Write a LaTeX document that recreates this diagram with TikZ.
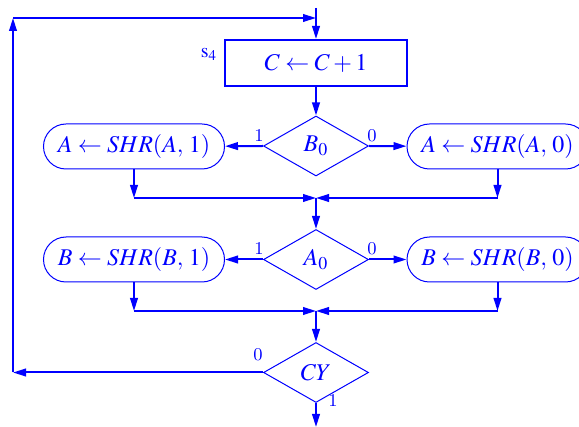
\documentclass[tikz,border=0pt]{standalone}
\usepackage{mathptmx}
\usetikzlibrary{shapes.geometric,arrows.meta}

\begin{document}
\begin{tikzpicture}[x=0.5pt,y=-0.5pt,
  every node/.style={text=blue},
  arrowline/.style={draw=blue,line width=1pt,-{Triangle[length=6.5pt,width=3.8pt]}},
  procbox/.style={draw=blue,line width=1pt,minimum width=91pt,minimum height=23pt,font=\fontsize{12}{14}\selectfont},
  shiftbox/.style={draw=blue,line width=0.5pt,rounded corners=11.25pt,minimum width=90.5pt,minimum height=22.5pt,font=\fontsize{12}{14}\selectfont},
  decision/.style={diamond,draw=blue,line width=0.5pt,minimum width=52.5pt,minimum height=30pt,inner sep=0pt,font=\fontsize{12}{14}\selectfont},
  edgelabel/.style={inner sep=0pt,font=\fontsize{9}{10}\selectfont}]
\useasboundingbox (0,0) rectangle (579,427);
% state s4
\coordinate (start) at (316,8);
\node[procbox] (inc) at (316,63) {$C \leftarrow C + 1$};
\node[edgelabel,font=\fontsize{10}{12}\selectfont] () at (209,54) {$\mathrm{s}_4$};
\draw [arrowline] (start) -- (inc);
% shift A by B0
\node[decision] (bzero) at (316,146) {$B_0$};
\node[shiftbox] (shrAone) at (134,146.5) {$A \leftarrow SHR(A,\,1)$};
\node[shiftbox] (shrAzero) at (497.5,146.5) {$A \leftarrow SHR(A,\,0)$};
\draw [arrowline] (inc) -- (bzero);
\draw [arrowline] (bzero.west) -- (shrAone);
\draw [arrowline] (bzero.east) -- (shrAzero);
\node[edgelabel] () at (259,136) {1};
\node[edgelabel] () at (372,136) {0};
\coordinate (joinA) at (316,198);
\draw [arrowline] (shrAone.south) -- (shrAone.south |- joinA);
\draw [arrowline] (shrAone.south |- joinA) -- (joinA);
\draw [arrowline] (shrAzero.south) -- (shrAzero.south |- joinA);
\draw [arrowline] (shrAzero.south |- joinA) -- (joinA);
% shift B by A0
\node[decision] (azero) at (316,259.5) {$A_0$};
\node[shiftbox] (shrBone) at (134,259.5) {$B \leftarrow SHR(B,\,1)$};
\node[shiftbox] (shrBzero) at (497.5,259.5) {$B \leftarrow SHR(B,\,0)$};
\draw [arrowline] (joinA) -- (azero);
\draw [arrowline] (azero.west) -- (shrBone);
\draw [arrowline] (azero.east) -- (shrBzero);
\node[edgelabel] () at (259,249) {1};
\node[edgelabel] () at (372,249) {0};
\coordinate (joinB) at (316,311);
\draw [arrowline] (shrBone.south) -- (shrBone.south |- joinB);
\draw [arrowline] (shrBone.south |- joinB) -- (joinB);
\draw [arrowline] (shrBzero.south) -- (shrBzero.south |- joinB);
\draw [arrowline] (shrBzero.south |- joinB) -- (joinB);
% carry test and loop back
\node[decision] (cy) at (316,372.5) {$CY$};
\draw [arrowline] (joinB) -- (cy);
\node[edgelabel] () at (258,355) {0};
\node[edgelabel] () at (333,401) {1};
\coordinate (loopBL) at (13,372.5);
\coordinate (loopTL) at (13,18);
\coordinate (loopTR) at (316,18);
\draw [arrowline] (cy.west) -- (loopBL);
\draw [arrowline] (loopBL) -- (loopTL);
\draw [arrowline] (loopTL) -- (loopTR);
\coordinate (stop) at (316,427);
\draw [arrowline] (cy.south) -- (stop);
\end{tikzpicture}
\end{document}
